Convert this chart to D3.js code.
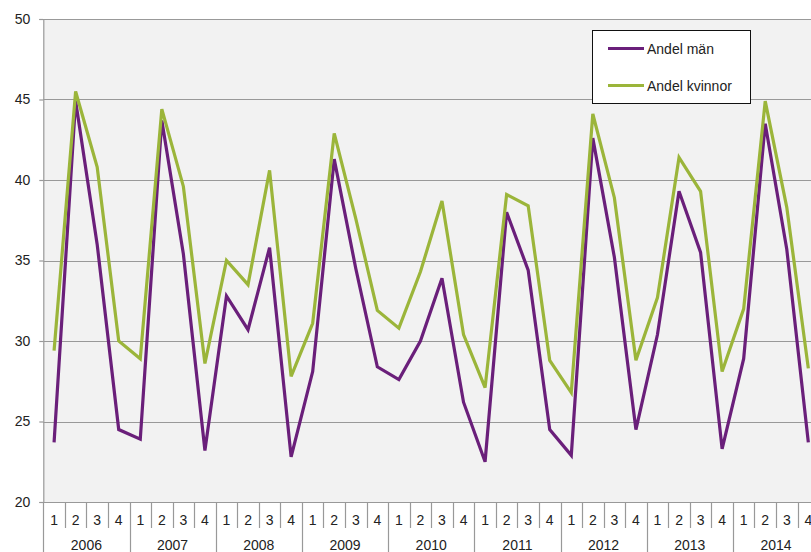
<!DOCTYPE html>
<html>
<head>
<meta charset="utf-8">
<script src="https://cdn.jsdelivr.net/npm/d3@7"></script>
<style>
  html, body { margin: 0; padding: 0; background: #ffffff; overflow: hidden; }
  svg { display: block; font-family: "Liberation Sans", Arial, sans-serif; }
</style>
</head>
<body>
<svg id="chart" width="811" height="552"></svg>
<script>
// Quarterly shares (%) 2006–2014
const years = ["2006", "2007", "2008", "2009", "2010", "2011", "2012", "2013", "2014"];
const quarters = ["1", "2", "3", "4"];
const andelMan = [
  23.7, 44.9, 36.0, 24.5,
  23.9, 43.7, 35.4, 23.2,
  32.8, 30.7, 35.8, 22.8,
  28.1, 41.3, 34.5, 28.4,
  27.6, 30.0, 33.9, 26.2,
  22.5, 38.0, 34.4, 24.5,
  22.9, 42.6, 35.2, 24.5,
  30.4, 39.3, 35.5, 23.3,
  28.9, 43.5, 35.7, 23.7
];
const andelKvinnor = [
  29.4, 45.5, 40.8, 30.0,
  28.9, 44.4, 39.6, 28.6,
  35.0, 33.5, 40.6, 27.8,
  31.1, 42.9, 37.6, 31.9,
  30.8, 34.3, 38.7, 30.4,
  27.1, 39.1, 38.4, 28.8,
  26.8, 44.1, 38.9, 28.8,
  32.7, 41.4, 39.3, 28.1,
  32.0, 44.9, 38.3, 28.3
];
const yTicks = [20, 25, 30, 35, 40, 45, 50];
const seriesNames = ["Andel män", "Andel kvinnor"];
const seriesColors = ["#6a1f7a", "#9bb53a"];

const svg = d3.select("#chart");
const plotLeft = 43.3, plotTop = 19, plotBottom = 502;
const bandW = 21.55;
const n = years.length * quarters.length;
const plotRight = plotLeft + n * bandW;
const fontSize = "14px";

const keys = d3.range(n);
const x = d3.scaleBand().domain(keys).range([plotLeft, plotRight]).paddingInner(0).paddingOuter(0);
const y = d3.scaleLinear().domain([20, 50]).range([plotBottom, plotTop]);

// plot background
svg.append("rect")
  .attr("x", plotLeft).attr("y", plotTop)
  .attr("width", plotRight - plotLeft).attr("height", plotBottom - plotTop)
  .attr("fill", "#f2f2f2");

// horizontal gridlines
svg.append("g").selectAll("line").data(yTicks).join("line")
  .attr("x1", plotLeft).attr("x2", plotRight)
  .attr("y1", d => Math.round(y(d)) + 0.5).attr("y2", d => Math.round(y(d)) + 0.5)
  .attr("stroke", "#999999").attr("stroke-width", 1.2);

// y axis
const yAxis = d3.axisLeft(y).tickValues(yTicks).tickSize(4).tickPadding(9);
const gy = svg.append("g").attr("transform", `translate(${plotLeft},0)`).call(yAxis);
gy.select(".domain").attr("stroke", "#999999").attr("stroke-width", 1.2);
gy.selectAll(".tick line").attr("stroke", "#999999").attr("stroke-width", 1.2);
gy.selectAll(".tick text").attr("fill", "#222").style("font-size", fontSize)
  .style("font-family", "'Liberation Sans', Arial, sans-serif");

// category axis: quarter row and year row
const gx = svg.append("g");
gx.selectAll("line.q").data(keys).join("line").attr("class", "q")
  .attr("x1", d => Math.round(x(d)) + 0.5).attr("x2", d => Math.round(x(d)) + 0.5)
  .attr("y1", plotBottom).attr("y2", d => d % 4 === 0 ? 552 : 528)
  .attr("stroke", "#999999").attr("stroke-width", 1.2);
gx.selectAll("text.q").data(keys).join("text").attr("class", "q")
  .attr("x", d => x(d) + bandW / 2).attr("y", 525)
  .attr("text-anchor", "middle").attr("fill", "#222").style("font-size", fontSize)
  .text(d => quarters[d % 4]);
gx.selectAll("text.y").data(years).join("text").attr("class", "y")
  .attr("x", (d, i) => x(i * 4) + bandW * 2).attr("y", 549.5)
  .attr("text-anchor", "middle").attr("fill", "#222").style("font-size", fontSize)
  .text(d => d);

// series lines
const line = d3.line().x((d, i) => x(i) + bandW / 2).y(d => y(d));
[andelMan, andelKvinnor].forEach((vals, k) => {
  svg.append("path").datum(vals)
    .attr("d", line)
    .attr("fill", "none")
    .attr("stroke", seriesColors[k])
    .attr("stroke-width", 3.2)
    .attr("stroke-linejoin", "miter");
});

// legend
const lg = svg.append("g");
lg.append("rect").attr("x", 592.5).attr("y", 30.5).attr("width", 158).attr("height", 73)
  .attr("fill", "#ffffff").attr("stroke", "#111").attr("stroke-width", 1);
seriesNames.forEach((name, k) => {
  const ly = k === 0 ? 48.5 : 85.5;
  lg.append("line").attr("x1", 608).attr("x2", 644).attr("y1", ly).attr("y2", ly)
    .attr("stroke", seriesColors[k]).attr("stroke-width", 3.2);
  lg.append("text").attr("x", 647).attr("y", ly + 5)
    .attr("fill", "#222").style("font-size", fontSize).text(name);
});
</script>
</body>
</html>
